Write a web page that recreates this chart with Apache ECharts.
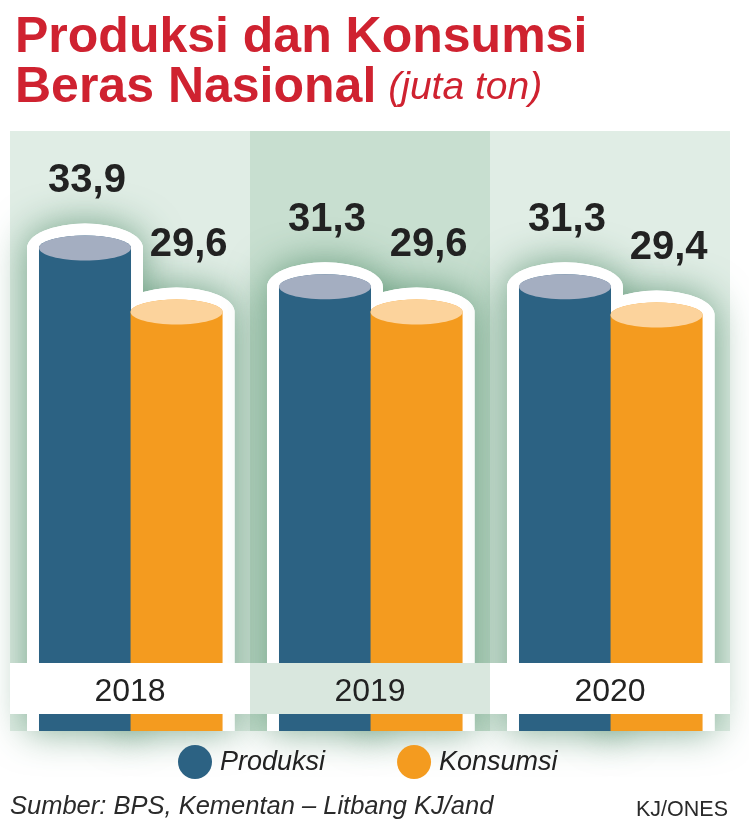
<!DOCTYPE html>
<html>
<head>
<meta charset="utf-8">
<script src="https://cdn.jsdelivr.net/npm/echarts@6/dist/echarts.min.js"></script>
<style>
html,body{margin:0;padding:0;background:#fff;}
#c{width:749px;height:834px;}
</style>
</head>
<body>
<div id="c"></div>
<script>
const years = ['2018', '2019', '2020'];
const produksi = [33.9, 31.3, 31.3];
const konsumsi = [29.6, 29.6, 29.4];
const seriesNames = ['Produksi', 'Konsumsi'];

const Y_MIN = 1.5, Y_MAX = 41.75;
const FONT = '"Liberation Sans", Arial, sans-serif';
const OFF_P = -0.1875, OFF_K = 0.194, HALF = 0.1917, PAD = 0.05, RY = 12.5;

function bodyPath(cx, top, bottom, rx, ry) {
  return 'M' + (cx - rx) + ' ' + top + ' A' + rx + ' ' + ry + ' 0 0 1 ' + (cx + rx) + ' ' + top +
    ' L' + (cx + rx) + ' ' + bottom + ' L' + (cx - rx) + ' ' + bottom + ' Z';
}
function fmt(v) { return String(v.toFixed(1)).replace('.', ','); }

const chart = echarts.init(document.getElementById('c'));

function glowItem(params, api) {
  const i = api.value(0);
  const band = api.size([1, 0])[0];
  const bottom = api.coord([i, Y_MIN])[1];
  const shadows = [], whites = [];
  [[api.value(1), OFF_P], [api.value(2), OFF_K]].forEach(function (d) {
    const p = api.coord([i, d[0]]);
    const cx = p[0] + d[1] * band;
    const rx = (HALF + PAD) * band;
    const path = bodyPath(cx, p[1], bottom, rx, RY + 12);
    shadows.push({ type: 'path', shape: { pathData: path }, style: { fill: '#fff', shadowBlur: 38, shadowColor: 'rgba(50,120,80,0.65)' } });
    whites.push({ type: 'path', shape: { pathData: path }, style: { fill: '#fff' } });
  });
  return { type: 'group', children: shadows.concat(whites) };
}

function makeBarItem(off, bodyColor, topColor, labelDx) {
  return function (params, api) {
    const i = api.value(0);
    const v = api.value(1);
    const band = api.size([1, 0])[0];
    const p = api.coord([i, v]);
    const bottom = api.coord([i, Y_MIN])[1];
    const cx = p[0] + off * band;
    const rx = HALF * band;
    return {
      type: 'group',
      children: [
        { type: 'path', shape: { pathData: bodyPath(cx, p[1], bottom, rx, RY) }, style: { fill: bodyColor } },
        { type: 'ellipse', shape: { cx: cx, cy: p[1], rx: rx, ry: RY }, style: { fill: topColor } },
        { type: 'text', style: { text: fmt(v), x: cx + labelDx, y: p[1] - 67, textAlign: 'center', textVerticalAlign: 'middle',
          fontSize: 40, fontWeight: 'bold', fontFamily: FONT, fill: '#222' } }
      ]
    };
  };
}

const option = {
  backgroundColor: '#fff',
  animation: false,
  title: [
    {
      text: '{a|Produksi dan Konsumsi}\n{a|Beras Nasional}{b|(juta ton)}',
      left: 10, top: 8,
      textStyle: {
        rich: {
          a: { fontSize: 50, fontWeight: 'bold', color: '#cf2230', fontFamily: FONT, lineHeight: 50 },
          b: { fontSize: 39, fontStyle: 'italic', fontWeight: 'normal', color: '#cf2230', fontFamily: FONT, lineHeight: 50, padding: [0, 0, 0, 12] }
        }
      }
    },
    {
      text: 'Sumber: BPS, Kementan \u2013 Litbang KJ/and',
      left: 5, top: 789,
      textStyle: { fontSize: 25.5, fontStyle: 'italic', fontWeight: 'normal', color: '#2a2a2a', fontFamily: FONT }
    },
    {
      text: 'KJ/ONES',
      right: 16, top: 794,
      textStyle: { fontSize: 21.5, fontWeight: 'normal', color: '#2a2a2a', fontFamily: FONT }
    }
  ],
  legend: {
    data: seriesNames,
    left: 173, top: 740,
    icon: 'circle',
    itemWidth: 34, itemHeight: 34,
    itemGap: 72,
    textStyle: { fontSize: 27, fontStyle: 'italic', color: '#222', fontFamily: FONT, padding: [0, 0, 0, 3] }
  },
  grid: { left: 10, right: 19, top: 131, bottom: 103 },
  xAxis: [
    {
      type: 'category',
      data: years,
      axisLine: { show: false },
      axisTick: { show: false },
      axisLabel: { show: false },
      splitArea: { show: true, areaStyle: { color: ['#e0ede5', '#c8dfd0'] } }
    },
    {
      type: 'category',
      data: years,
      position: 'bottom',
      z: 10,
      axisLine: { show: false },
      axisTick: { show: false },
      splitArea: { show: false },
      axisLabel: {
        interval: 0,
        margin: -64,
        formatter: function (v, idx) { return idx === 1 ? '{g|' + v + '}' : '{w|' + v + '}'; },
        rich: {
          w: { width: 240, height: 43, lineHeight: 43, padding: [8, 0, 0, 0], align: 'center', backgroundColor: '#ffffff', fontSize: 32, color: '#222', fontFamily: FONT },
          g: { width: 240, height: 43, lineHeight: 43, padding: [8, 0, 0, 0], align: 'center', backgroundColor: '#d9e7de', fontSize: 32, color: '#222', fontFamily: FONT }
        }
      }
    }
  ],
  yAxis: { type: 'value', min: Y_MIN, max: Y_MAX, show: false, splitLine: { show: false } },
  series: [
    {
      type: 'custom', name: 'glow', silent: true,
      renderItem: glowItem,
      data: years.map(function (y, i) { return [i, produksi[i], konsumsi[i]]; })
    },
    {
      type: 'custom', name: 'Produksi',
      itemStyle: { color: '#2c6283' },
      renderItem: makeBarItem(OFF_P, '#2c6283', '#a4aec1', 2),
      data: produksi.map(function (v, i) { return [i, v]; })
    },
    {
      type: 'custom', name: 'Konsumsi',
      itemStyle: { color: '#f49b1f' },
      renderItem: makeBarItem(OFF_K, '#f49b1f', '#fcd39c', 12),
      data: konsumsi.map(function (v, i) { return [i, v]; })
    }
  ]
};
chart.setOption(option);
</script>
</body>
</html>
